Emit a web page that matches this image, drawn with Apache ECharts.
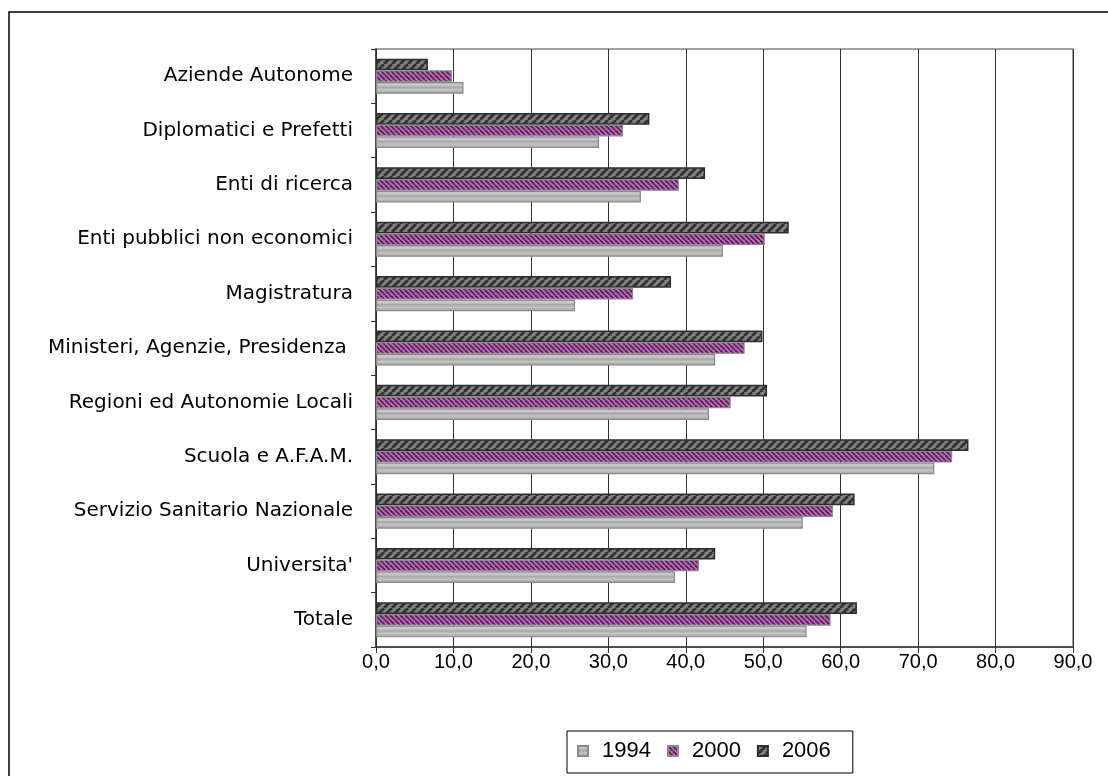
<!DOCTYPE html>
<html>
<head>
<meta charset="utf-8">
<title>Bar chart</title>
<script src="https://cdn.jsdelivr.net/npm/echarts@6/dist/echarts.min.js"></script>
<style>
  html, body { margin: 0; padding: 0; background: #ffffff; }
  #chart { width: 1108px; height: 776px; }
</style>
</head>
<body>
<div id="chart"></div>
<script>
// categorie (dall'alto verso il basso)
const categories = [
  'Aziende Autonome',
  'Diplomatici e Prefetti',
  'Enti di ricerca',
  'Enti pubblici non economici',
  'Magistratura',
  'Ministeri, Agenzie, Presidenza ',
  'Regioni ed Autonomie Locali',
  'Scuola e A.F.A.M.',
  'Servizio Sanitario Nazionale',
  "Universita'",
  'Totale'
];
const years = ['1994', '2000', '2006'];
const values1994 = [11.3, 28.8, 34.2, 44.8, 25.7, 43.8, 43.0, 72.1, 55.1, 38.6, 55.6];
const values2000 = [9.8, 31.9, 39.1, 50.2, 33.2, 47.6, 45.8, 74.4, 59.0, 41.7, 58.7];
const values2006 = [6.7, 35.3, 42.5, 53.3, 38.1, 49.9, 50.5, 76.5, 61.8, 43.8, 62.1];
const xTicks = [0, 10, 20, 30, 40, 50, 60, 70, 80, 90];

// tratteggio diagonale per le barre
function makeHatch(bg, fg, size, lw, dir) {
  const c = document.createElement('canvas');
  c.width = size;
  c.height = size;
  const ctx = c.getContext('2d');
  ctx.fillStyle = bg;
  ctx.fillRect(0, 0, size, size);
  ctx.strokeStyle = fg;
  ctx.lineWidth = lw;
  for (let k = -1; k <= 1; k++) {
    const o = k * size;
    ctx.beginPath();
    if (dir === '/') {
      ctx.moveTo(o, size);
      ctx.lineTo(o + size, 0);
    } else {
      ctx.moveTo(o, 0);
      ctx.lineTo(o + size, size);
    }
    ctx.stroke();
  }
  return {image: c, repeat: 'repeat'};
}

const fill1994 = {
  type: 'linear', x: 0, y: 0, x2: 0, y2: 1,
  colorStops: [
    {offset: 0, color: '#b4b4b4'},
    {offset: 0.25, color: '#cccccc'},
    {offset: 0.45, color: '#a6a6a6'},
    {offset: 0.65, color: '#c4c4c4'},
    {offset: 1, color: '#a0a0a0'}
  ]
};
const fill2000 = makeHatch('#8c8c8c', '#880088', 5, 1.8, '\\');
const fill2006 = makeHatch('#808080', '#333333', 8, 2.8, '/');

const chart = echarts.init(document.getElementById('chart'));

const font = '"Liberation Sans", Arial, sans-serif';

const option = {
  animation: false,
  backgroundColor: '#ffffff',
  textStyle: {fontFamily: font},
  grid: {left: 376, top: 49, right: 35, bottom: 129, show: true,
    borderColor: '#808080', borderWidth: 1.5, containLabel: false},
  legend: {
    data: years,
    left: 567,
    top: 731,
    orient: 'horizontal',
    icon: 'rect',
    itemWidth: 10,
    itemHeight: 10,
    itemGap: 16,
    padding: [9, 22, 11, 10],
    borderColor: '#000000',
    borderWidth: 1,
    textStyle: {fontSize: 22, color: '#000000', fontFamily: font,
      padding: [0, 0, 0, 9]}
  },
  xAxis: {
    type: 'value',
    min: xTicks[0],
    max: xTicks[xTicks.length - 1],
    interval: 10,
    axisLine: {show: true, lineStyle: {color: '#333333', width: 1.5}},
    axisTick: {show: true, length: 6, lineStyle: {color: '#333333'}},
    splitLine: {show: true, lineStyle: {color: '#333333', width: 1}},
    axisLabel: {
      margin: 5,
      fontSize: 20,
      color: '#000000',
      fontFamily: font,
      formatter: v => v.toFixed(1).replace('.', ',')
    }
  },
  yAxis: {
    type: 'category',
    inverse: true,
    data: categories,
    axisLine: {show: true, lineStyle: {color: '#333333', width: 1.5}},
    axisTick: {show: true, length: 5, lineStyle: {color: '#333333'}},
    axisLabel: {margin: 23, fontSize: 20, color: '#000000',
      fontFamily: '"DejaVu Sans", sans-serif'}
  },
  series: [
    {
      name: '2006', type: 'bar', data: values2006,
      barWidth: 11.7, barGap: '0%',
      itemStyle: {color: fill2006, borderColor: '#2e2e2e', borderWidth: 1.5}
    },
    {
      name: '2000', type: 'bar', data: values2000,
      barWidth: 11.7, barGap: '0%',
      itemStyle: {color: fill2000, borderColor: '#8a8a8a', borderWidth: 1.2}
    },
    {
      name: '1994', type: 'bar', data: values1994,
      barWidth: 11.7, barGap: '0%',
      itemStyle: {color: fill1994, borderColor: '#8a8a8a', borderWidth: 1.2}
    }
  ],
  graphic: [
    {
      type: 'rect',
      shape: {x: 9, y: 12, width: 1200, height: 900},
      style: {fill: 'none', stroke: '#000000', lineWidth: 1.5},
      z: -1
    }
  ]
};

chart.setOption(option);
</script>
</body>
</html>
